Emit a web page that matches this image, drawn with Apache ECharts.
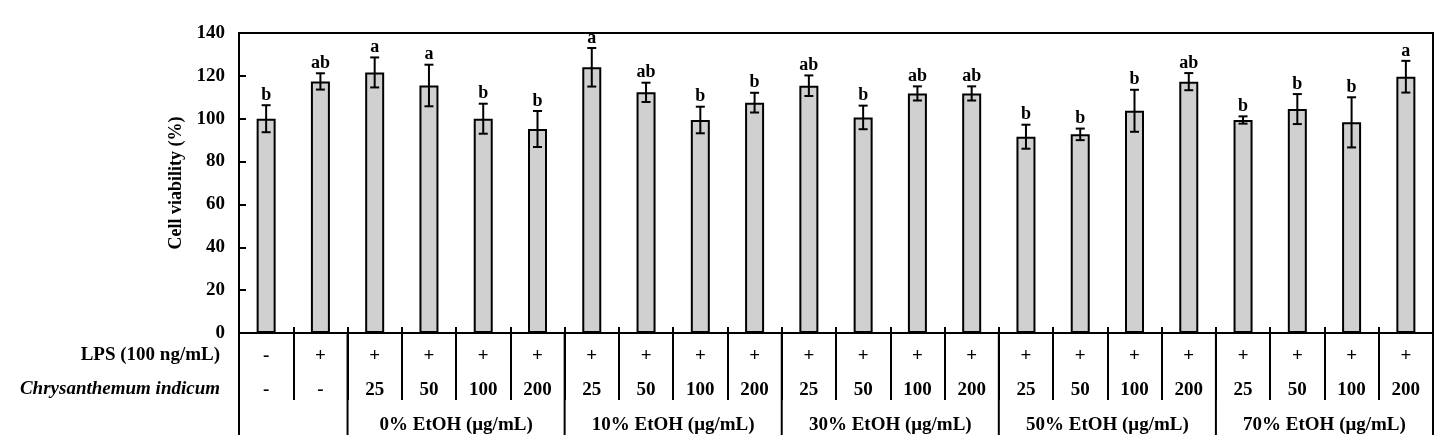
<!DOCTYPE html>
<html>
<head>
<meta charset="utf-8">
<script src="https://cdn.jsdelivr.net/npm/echarts@6/dist/echarts.min.js"></script>
<style>
  html, body { margin: 0; padding: 0; background: #fff; }
  #main { width: 1437px; height: 435px; }
</style>
</head>
<body>
<div id="main"></div>
<script>
// 细胞存活率数据
const categories = ['Control', 'LPS', '0%-25', '0%-50', '0%-100', '0%-200',
  '10%-25', '10%-50', '10%-100', '10%-200', '30%-25', '30%-50', '30%-100', '30%-200',
  '50%-25', '50%-50', '50%-100', '50%-200', '70%-25', '70%-50', '70%-100', '70%-200'];
const viability = [100, 117.4, 121.6, 115.5, 100, 95.2, 124, 112.3, 99.4, 107.5, 115.4, 100.6,
  111.8, 111.8, 91.6, 92.7, 103.7, 117.3, 99.4, 104.5, 98.3, 119.6];
const sd = [6.3, 3.8, 7, 9.7, 7, 8.4, 9, 4.5, 6.2, 4.6, 4.8, 5.5, 3.3, 3.3, 5.6, 2.7, 9.8, 4, 1.7, 7, 11.7, 7.4];
const letters = ['b', 'ab', 'a', 'a', 'b', 'b', 'a', 'ab', 'b', 'b', 'ab', 'b', 'ab', 'ab',
  'b', 'b', 'b', 'ab', 'b', 'b', 'b', 'a'];
const lpsRow = ['-', '+', '+', '+', '+', '+', '+', '+', '+', '+', '+', '+', '+', '+', '+', '+', '+', '+', '+', '+', '+', '+'];
const concRow = ['-', '-', '25', '50', '100', '200', '25', '50', '100', '200', '25', '50', '100', '200',
  '25', '50', '100', '200', '25', '50', '100', '200'];
const groupNames = ['', '0% EtOH (μg/mL)', '10% EtOH (μg/mL)', '30% EtOH (μg/mL)', '50% EtOH (μg/mL)', '70% EtOH (μg/mL)'];
const groupStart = [0, 2, 6, 10, 14, 18];
const groupEnd = [1, 5, 9, 13, 17, 21];
const yTicks = { min: 0, max: 140, interval: 20 };

const FONT = '"Liberation Serif", "Times New Roman", serif';

var myChart = echarts.init(document.getElementById('main'));

let option = {
  animation: false,
  grid: {
    left: 239, right: 4, top: 33, bottom: 102,
    show: true, borderColor: '#000', borderWidth: 2, backgroundColor: 'transparent'
  },
  xAxis: [{
    type: 'category',
    data: categories,
    axisLine: { lineStyle: { color: '#000', width: 2 } },
    axisTick: { show: true, interval: 0, length: 67, lineStyle: { color: '#000', width: 2 } },
    axisLabel: {
      interval: 0,
      margin: 6,
      formatter: function (value, index) {
        return '{a|' + lpsRow[index] + '}\n{b|' + concRow[index] + '}';
      },
      rich: {
        a: { fontFamily: FONT, fontSize: 19, fontWeight: 'bold', color: '#000', lineHeight: 34 },
        b: { fontFamily: FONT, fontSize: 19, fontWeight: 'bold', color: '#000', lineHeight: 34 }
      }
    }
  }, {
    type: 'category',
    data: categories,
    position: 'bottom',
    axisLine: { show: false },
    axisTick: { show: true, inside: true, interval: 0, length: 6, lineStyle: { color: '#000', width: 2 } },
    axisLabel: { show: false }
  }],
  yAxis: {
    type: 'value',
    min: yTicks.min,
    max: yTicks.max,
    interval: yTicks.interval,
    name: 'Cell viability (%)',
    nameLocation: 'middle',
    nameRotate: 90,
    nameGap: 47,
    nameTextStyle: { fontFamily: FONT, fontSize: 18, fontWeight: 'bold', color: '#000' },
    splitLine: { show: false },
    axisLine: { show: true, lineStyle: { color: '#000', width: 2 } },
    axisTick: { show: true, inside: true, length: 7, lineStyle: { color: '#000', width: 2 } },
    axisLabel: { margin: 14, fontFamily: FONT, fontSize: 19, fontWeight: 'bold', color: '#000' }
  },
  graphic: [
    {
      type: 'text', right: 1437 - 220, top: 346,
      style: { text: 'LPS (100 ng/mL)', font: 'bold 19px ' + FONT, fill: '#000' }
    },
    {
      type: 'text', right: 1437 - 220, top: 380,
      style: { text: 'Chrysanthemum indicum', font: 'italic bold 19px ' + FONT, fill: '#000' }
    }
  ],
  series: [
    {
      name: 'viability',
      type: 'bar',
      data: viability,
      barWidth: 19,
      itemStyle: { color: '#d0d0d0', borderColor: '#000', borderWidth: 2 }
    },
    {
      name: 'error',
      type: 'custom',
      data: viability.map((v, i) => [i, v, sd[i]]),
      z: 5,
      renderItem: function (params, api) {
        const i = api.value(0);
        const top = api.coord([i, api.value(1) + api.value(2)]);
        const bot = api.coord([i, api.value(1) - api.value(2)]);
        const hw = 4.5;
        return {
          type: 'group',
          children: [
            { type: 'line', shape: { x1: top[0], y1: top[1], x2: bot[0], y2: bot[1] }, style: { stroke: '#000', lineWidth: 2 } },
            { type: 'line', shape: { x1: top[0] - hw, y1: top[1], x2: top[0] + hw, y2: top[1] }, style: { stroke: '#000', lineWidth: 2 } },
            { type: 'line', shape: { x1: bot[0] - hw, y1: bot[1], x2: bot[0] + hw, y2: bot[1] }, style: { stroke: '#000', lineWidth: 2 } },
            {
              type: 'text',
              style: {
                text: letters[params.dataIndex], x: top[0], y: top[1] - 1,
                font: 'bold 18px ' + FONT, fill: '#000', align: 'center', verticalAlign: 'bottom'
              }
            }
          ]
        };
      }
    },
    {
      // 表格分组线和分组名
      name: 'groups',
      type: 'custom',
      data: groupNames.map((g, i) => [groupStart[i], 0]),
      clip: false,
      silent: true,
      renderItem: function (params, api) {
        const g = params.dataIndex;
        const band = api.size([1, 0])[0];
        const left = api.coord([groupStart[g], 0])[0] - band / 2;
        const right = api.coord([groupEnd[g], 0])[0] + band / 2;
        const y0 = api.coord([0, 0])[1];
        const children = [
          { type: 'line', shape: { x1: left, y1: y0, x2: left, y2: y0 + 102 }, style: { stroke: '#000', lineWidth: 2 } }
        ];
        if (g === groupNames.length - 1) {
          children.push({ type: 'line', shape: { x1: right, y1: y0, x2: right, y2: y0 + 102 }, style: { stroke: '#000', lineWidth: 2 } });
        }
        children.push({
          type: 'text',
          style: {
            text: groupNames[g], x: (left + right) / 2, y: y0 + 92,
            font: 'bold 19px ' + FONT, fill: '#000', align: 'center', verticalAlign: 'middle'
          }
        });
        return { type: 'group', children: children };
      }
    }
  ]
};
myChart.setOption(option);
</script>
</body>
</html>
